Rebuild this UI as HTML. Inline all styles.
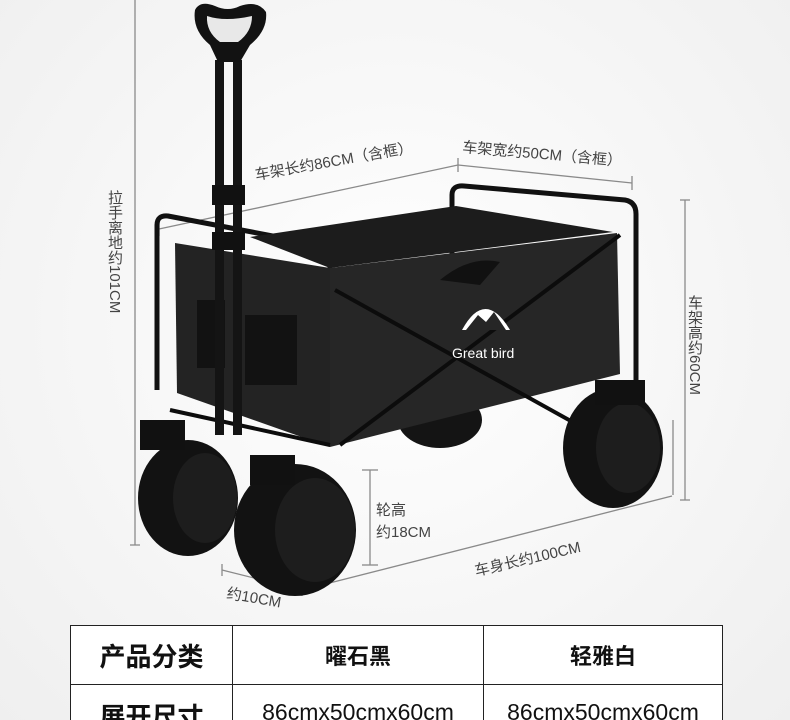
<!DOCTYPE html>
<html><head><meta charset="utf-8"><style>
html,body{margin:0;padding:0;}
body{width:790px;height:720px;overflow:hidden;background:radial-gradient(ellipse at 50% 45%,#ffffff 0%,#f6f6f6 55%,#efefef 100%);font-family:"Liberation Sans","Noto Sans CJK SC",sans-serif;position:relative;}
svg{position:absolute;left:0;top:0;}
.tw{position:absolute;left:70px;top:625px;width:653px;height:95px;overflow:hidden;}
table{border-collapse:collapse;background:#fff;}
td{border:1.5px solid #222;text-align:center;color:#111;padding:0;}
.v{position:absolute;writing-mode:vertical-rl;font-size:15px;color:#444;line-height:16px;}
</style></head><body>
<svg width="790" height="720" viewBox="0 0 790 720">
<g stroke="#8a8a8a" stroke-width="1.3" fill="none">
<line x1="135" y1="0" x2="135" y2="545"/><line x1="130" y1="545" x2="140" y2="545"/>
<line x1="159" y1="229" x2="458" y2="165"/><line x1="159" y1="222" x2="159" y2="236"/><line x1="458" y1="158" x2="458" y2="172"/>
<line x1="458" y1="165" x2="632" y2="183"/><line x1="632" y1="176" x2="632" y2="190"/>
<line x1="685" y1="200" x2="685" y2="500"/><line x1="680" y1="200" x2="690" y2="200"/><line x1="680" y1="500" x2="690" y2="500"/>
<line x1="673" y1="420" x2="673" y2="495"/>
<line x1="370" y1="470" x2="370" y2="565"/><line x1="362" y1="470" x2="378" y2="470"/><line x1="362" y1="565" x2="378" y2="565"/>
<line x1="302" y1="590" x2="672" y2="496"/>
<line x1="222" y1="570" x2="302" y2="590"/><line x1="222" y1="564" x2="222" y2="576"/><line x1="302" y1="584" x2="302" y2="596"/>
</g>
<g fill="#444" font-size="15">
<text transform="translate(256,180) rotate(-10)">车架长约86CM（含框）</text>
<text transform="translate(462,152) rotate(5)">车架宽约50CM（含框）</text>
<text x="376" y="515">轮高</text><text x="376" y="537">约18CM</text>
<text transform="translate(476,576) rotate(-13)">车身长约100CM</text>
<text transform="translate(226,598) rotate(10)">约10CM</text>
</g>
<ellipse cx="440" cy="420" rx="42" ry="28" fill="#141414"/>
<g stroke="#111" stroke-width="5" fill="none" stroke-linejoin="round">
<path d="M157 390 L157 225 Q157 215 168 216 L320 245 Q330 248 330 262 L330 445"/>
<path d="M452 260 L452 195 Q452 185 464 186 L625 200 Q636 202 636 214 L636 390"/>
</g>
<polygon points="250,237 456,206 613,232 330,268" fill="#1c1c1c"/>
<polygon points="175,243 330,268 330,447 177,393" fill="#232323"/>
<polygon points="330,268 617,233 620,374 330,447" fill="#262626"/>
<g stroke="#0c0c0c" stroke-width="4">
<line x1="335" y1="290" x2="605" y2="440"/><line x1="340" y1="445" x2="620" y2="235"/>
<line x1="170" y1="410" x2="330" y2="445"/>
</g>
<path d="M440 280 Q470 255 500 262 L480 285 Z" fill="#111"/>
<rect x="197" y="300" width="28" height="68" fill="#121212"/>
<rect x="245" y="315" width="52" height="70" fill="#121212"/>
<path d="M462 330 Q485 288 510 330 Z" fill="#fff"/>
<path d="M466 330 L478 315 L486 322 L494 312 L506 330 Z" fill="#262626"/>
<text x="452" y="358" fill="#fff" font-size="14">Great bird</text>
<rect x="215" y="60" width="9" height="375" fill="#141414"/>
<rect x="233" y="60" width="9" height="375" fill="#141414"/>
<rect x="212" y="185" width="33" height="20" fill="#111"/>
<rect x="212" y="232" width="33" height="18" fill="#111"/>
<path d="M195 10 Q200 0 215 6 Q228 12 240 6 Q258 0 266 12 Q268 30 250 45 L240 62 L218 62 L210 45 Q192 30 195 10 Z" fill="#121212"/>
<path d="M207 16 Q225 22 252 16 Q252 32 238 42 L220 42 Q206 32 207 16Z" fill="#e8e8e8"/>
<ellipse cx="188" cy="498" rx="50" ry="58" fill="#121212"/>
<ellipse cx="205" cy="498" rx="32" ry="45" fill="#1d1d1d"/>
<ellipse cx="613" cy="448" rx="50" ry="60" fill="#121212"/>
<ellipse cx="628" cy="448" rx="32" ry="45" fill="#1d1d1d"/>
<ellipse cx="295" cy="530" rx="61" ry="66" fill="#121212"/>
<ellipse cx="315" cy="530" rx="40" ry="52" fill="#1d1d1d"/>
<rect x="140" y="420" width="45" height="30" fill="#111"/>
<rect x="250" y="455" width="45" height="30" fill="#111"/>
<rect x="595" y="380" width="50" height="25" fill="#111"/>
</svg>
<div class="v" style="left:106px;top:190px;">拉手离地约101CM</div>
<div class="v" style="left:686px;top:295px;">车架高约60CM</div>
<div class="tw"><table>
<tr style="height:59px"><td style="width:161px;font-size:26px;font-weight:bold">产品分类</td><td style="width:250px;font-size:22px;font-weight:bold">曜石黑</td><td style="width:238px;font-size:22px;font-weight:bold">轻雅白</td></tr>
<tr style="height:59px"><td style="font-size:26px;font-weight:bold;vertical-align:top;padding-top:12px">展开尺寸</td><td style="font-size:23px;vertical-align:top;padding-top:14px">86cmx50cmx60cm</td><td style="font-size:23px;vertical-align:top;padding-top:14px">86cmx50cmx60cm</td></tr>
</table></div>
</body></html>
